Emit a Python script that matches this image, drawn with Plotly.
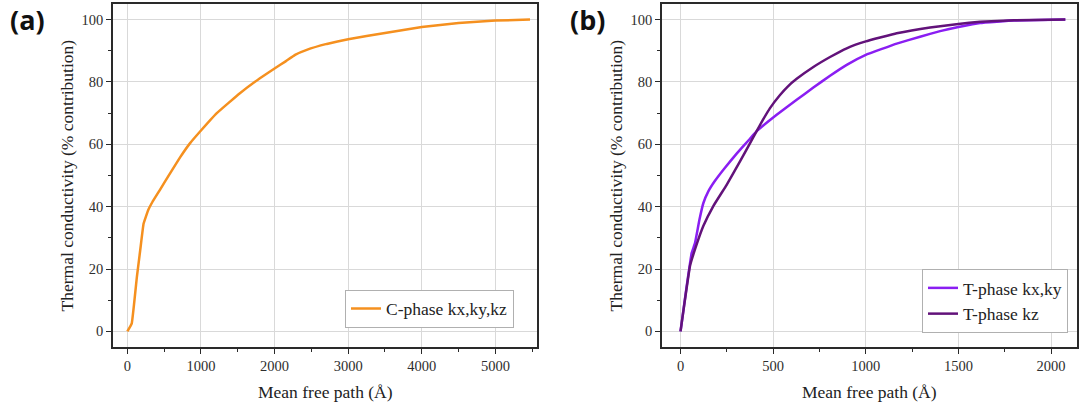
import plotly.graph_objects as go

# Cumulative thermal conductivity vs. phonon mean free path
c_mfp = [0, 60, 130, 175, 220, 285, 340, 445, 580, 716, 850, 988, 1215, 1529,
         1801, 2005, 2150, 2278, 2437, 2709, 3000, 3500, 4000, 4500, 5000, 5470]
c_kxyz = [0, 2.6, 17.6, 26.1, 34.5, 39, 41.5, 45.5, 50.7, 55.8, 60.3, 64.1, 70, 76.4,
          81.2, 84.4, 86.6, 88.7, 90.3, 92.2, 93.7, 95.7, 97.6, 98.9, 99.7, 100]

t_mfp_xy = [0, 33, 60, 78, 102, 123, 150, 186, 240, 303, 375, 411, 519, 627, 717,
            807, 897, 1000, 1167, 1293, 1401, 1500, 1617, 1800, 2077]
t_kxy = [0, 14.4, 25.1, 28.3, 35.8, 41.1, 44.9, 48.3, 52.5, 57.0, 61.8, 64.2, 69.5,
         74.3, 78.2, 82.0, 85.5, 88.7, 92.3, 94.5, 96.3, 97.6, 98.9, 99.7, 100]

t_mfp_z = [0, 24, 51, 78, 123, 177, 249, 321, 393, 429, 483, 537, 580, 627, 717,
           807, 897, 1000, 1167, 1347, 1500, 1617, 1800, 2077]
t_kz = [0, 10.2, 21, 26.3, 33.8, 40.2, 47, 54.5, 62.3, 66.2, 71.6, 75.8, 78.6, 81,
        84.8, 88, 90.8, 93, 95.6, 97.5, 98.6, 99.3, 99.8, 100]

panel_labels = ["(a)", "(b)"]
x_title = "Mean free path (Å)"
y_title = "Thermal conductivity (% contribution)"

ORANGE = "#F5901F"
VIOLET = "#8A1EF2"
PURPLE = "#62127A"
SERIF = "Liberation Serif"

fig = go.Figure()
fig.add_trace(go.Scatter(x=c_mfp, y=c_kxyz, mode="lines", name="C-phase kx,ky,kz",
                         line=dict(color=ORANGE, width=2.5, shape="spline", smoothing=0.25),
                         xaxis="x", yaxis="y", legend="legend"))
fig.add_trace(go.Scatter(x=t_mfp_xy, y=t_kxy, mode="lines", name="T-phase kx,ky",
                         line=dict(color=VIOLET, width=2.5, shape="spline", smoothing=0.25),
                         xaxis="x2", yaxis="y2", legend="legend2"))
fig.add_trace(go.Scatter(x=t_mfp_z, y=t_kz, mode="lines", name="T-phase kz",
                         line=dict(color=PURPLE, width=2.5, shape="spline", smoothing=0.25),
                         xaxis="x2", yaxis="y2", legend="legend2"))

W, H = 1081, 407
ybot, ytop = (H - 347) / H, (H - 4) / H
dom_a = [113 / W, 537 / W]
dom_b = [662 / W, 1077 / W]

axis_common = dict(
    showline=True, linecolor="#2a2a2a", linewidth=1.5, mirror=True,
    ticks="outside", ticklen=5, tickwidth=1.2, tickcolor="#2a2a2a",
    showgrid=True, gridcolor="#d9d9d9", gridwidth=1, zeroline=False,
    tickfont=dict(family=SERIF, size=14.5, color="#2e2e2e"),
)
minor_common = dict(ticks="outside", ticklen=3, tickcolor="#2a2a2a", showgrid=False)

legend_common = dict(
    xanchor="right", yanchor="middle", bgcolor="white",
    bordercolor="#b0b0b0", borderwidth=1, itemwidth=30, tracegroupgap=0,
    font=dict(family=SERIF, size=17.5, color="#222222"),
)

fig.update_layout(
    width=W, height=H, margin=dict(l=0, r=0, t=0, b=0),
    paper_bgcolor="white", plot_bgcolor="white",
    xaxis=dict(domain=dom_a, range=[-195, 5565], dtick=1000, tick0=0, anchor="y",
               minor=dict(dtick=500, tick0=0, **minor_common), **axis_common),
    yaxis=dict(domain=[ybot, ytop], range=[-5, 105], dtick=20, tick0=0, anchor="x",
               minor=dict(dtick=10, tick0=0, **minor_common), **axis_common),
    xaxis2=dict(domain=dom_b, range=[-100, 2140], dtick=500, tick0=0, anchor="y2",
                minor=dict(dtick=250, tick0=0, **minor_common), **axis_common),
    yaxis2=dict(domain=[ybot, ytop], range=[-5, 105], dtick=20, tick0=0, anchor="x2",
                minor=dict(dtick=10, tick0=0, **minor_common), **axis_common),
    legend=dict(x=514 / W, y=(H - 308.5) / H, **legend_common),
    legend2=dict(x=1068 / W, y=(H - 301) / H, **legend_common),
    showlegend=True,
)

annotations = []
for dom in (dom_a, dom_b):
    cx = (dom[0] + dom[1]) / 2
    annotations.append(dict(text=x_title, x=cx, y=(H - 392) / H, xref="paper", yref="paper",
                            showarrow=False, xanchor="center", yanchor="middle",
                            font=dict(family=SERIF, size=17.5, color="#222222")))
for xpx in (66, 615):
    annotations.append(dict(text=y_title, x=xpx / W, y=(ybot + ytop) / 2, xref="paper",
                            yref="paper", showarrow=False, textangle=-90,
                            xanchor="center", yanchor="middle",
                            font=dict(family=SERIF, size=17.5, color="#222222")))
for label, xpx in zip(panel_labels, (27, 587)):
    annotations.append(dict(text="<b>%s</b>" % label, x=xpx / W, y=(H - 20) / H,
                            xref="paper", yref="paper", showarrow=False,
                            xanchor="center", yanchor="middle",
                            font=dict(family="Open Sans", size=27, color="#111111")))
fig.update_layout(annotations=annotations)

fig.write_html("out.html")
